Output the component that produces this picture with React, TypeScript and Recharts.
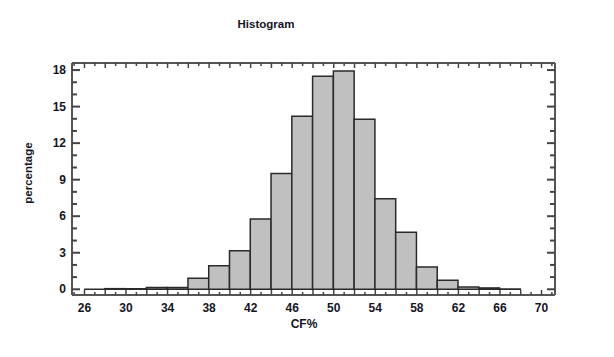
import React from 'react';
import { BarChart, Bar, XAxis, YAxis } from 'recharts';

const binCenters = [27, 29, 31, 33, 35, 37, 39, 41, 43, 45, 47, 49, 51, 53, 55, 57, 59, 61, 63, 65, 67];
const percentages = [0, 0.05, 0.05, 0.15, 0.15, 0.9, 1.94, 3.17, 5.77, 9.5, 14.2, 17.5, 17.93, 13.96, 7.44, 4.68, 1.83, 0.74, 0.19, 0.11, 0.02];
const binWidth = 2;

const xTickLabels = [26, 30, 34, 38, 42, 46, 50, 54, 58, 62, 66, 70];
const xMinorTicks = [25, 26, 27, 28, 29, 30, 31, 32, 33, 34, 35, 36, 37, 38, 39, 40, 41, 42, 43, 44, 45, 46, 47, 48, 49, 50, 51, 52, 53, 54, 55, 56, 57, 58, 59, 60, 61, 62, 63, 64, 65, 66, 67, 68, 69, 70, 71];
const yTickLabels = [0, 3, 6, 9, 12, 15, 18];
const yMinorTicks = [0, 1, 2, 3, 4, 5, 6, 7, 8, 9, 10, 11, 12, 13, 14, 15, 16, 17, 18];

const title = 'Histogram';
const xLabel = 'CF%';
const yLabel = 'percentage';

const xDomain: [number, number] = [24.8, 71.3];
const yDomain: [number, number] = [-0.47, 18.58];

const data = binCenters.map((c, i) => ({ center: c, pct: percentages[i] }));

const W = 614;
const H = 357;
const margin = { top: 62, right: 58, bottom: 61, left: 71 };
const plotW = W - margin.left - margin.right - 2;
const binPx = (plotW * binWidth) / (xDomain[1] - xDomain[0]);

const FONT = "'Liberation Sans', Arial, sans-serif";
const TEXT_COLOR = '#15151f';
const FRAME = '#555555';
const TICK = '#444444';

const HistBar = (props: any) => {
  const { x, y, width, height } = props;
  if (x == null || y == null) return null;
  const cx = x + (width || 0) / 2;
  const left = cx - binPx / 2;
  const h = height || 0;
  return (
    <path
      d={`M${left},${y} h${binPx} v${h} h${-binPx} Z`}
      fill="#c0c0c0"
      stroke="#2a2a2a"
      strokeWidth={1.5}
    />
  );
};

const BottomTick = (props: any) => {
  const { x, y, payload } = props;
  const v = payload.value;
  const major = v % 2 === 0;
  const labeled = xTickLabels.includes(v);
  return (
    <g>
      <line x1={x} x2={x} y1={y} y2={y - (major ? 5 : 3)} stroke={TICK} strokeWidth={1.5} />
      {labeled && (
        <text x={x} y={y + 17} textAnchor="middle" fontFamily={FONT} fontWeight="bold" fontSize={12} fill={TEXT_COLOR}>
          {v}
        </text>
      )}
    </g>
  );
};

const TopTick = (props: any) => {
  const { x, y, payload } = props;
  const v = payload.value;
  const major = v % 2 === 0;
  return <line x1={x} x2={x} y1={y} y2={y + (major ? 5 : 3)} stroke={TICK} strokeWidth={1.5} />;
};

const LeftTick = (props: any) => {
  const { x, y, payload } = props;
  const v = payload.value;
  const labeled = yTickLabels.includes(v);
  return (
    <g>
      <line x1={x} x2={x + (labeled ? 8 : 5)} y1={y} y2={y} stroke={TICK} strokeWidth={2} />
      {labeled && (
        <text x={x - 6} y={y + 4} textAnchor="end" fontFamily={FONT} fontWeight="bold" fontSize={12} fill={TEXT_COLOR}>
          {v}
        </text>
      )}
    </g>
  );
};

const RightTick = (props: any) => {
  const { x, y, payload } = props;
  const v = payload.value;
  const labeled = yTickLabels.includes(v);
  return <line x1={x} x2={x - (labeled ? 8 : 5)} y1={y} y2={y} stroke={TICK} strokeWidth={2} />;
};

export default function App() {
  return (
    <div style={{ position: 'absolute', left: 0, top: 0, width: W, height: H, background: '#fff' }}>
      <BarChart width={W} height={H} data={data} margin={margin} barCategoryGap={0} barGap={0}>
        <XAxis
          xAxisId="bottom"
          dataKey="center"
          type="number"
          domain={xDomain}
          allowDataOverflow
          padding={{ left: 0, right: 0 }}
          ticks={xMinorTicks}
          interval={0}
          height={1}
          tickSize={0}
          tickMargin={0}
          tickLine={false}
          axisLine={{ stroke: FRAME, strokeWidth: 2 }}
          tick={<BottomTick />}
        />
        <XAxis
          xAxisId="top"
          orientation="top"
          dataKey="center"
          type="number"
          domain={xDomain}
          allowDataOverflow
          padding={{ left: 0, right: 0 }}
          ticks={xMinorTicks}
          interval={0}
          height={1}
          tickSize={0}
          tickMargin={0}
          tickLine={false}
          axisLine={{ stroke: FRAME, strokeWidth: 2 }}
          tick={<TopTick />}
        />
        <YAxis
          yAxisId="left"
          type="number"
          domain={yDomain}
          allowDataOverflow
          ticks={yMinorTicks}
          interval={0}
          width={1}
          tickSize={0}
          tickMargin={0}
          tickLine={false}
          axisLine={{ stroke: FRAME, strokeWidth: 2 }}
          tick={<LeftTick />}
        />
        <YAxis
          yAxisId="right"
          orientation="right"
          type="number"
          domain={yDomain}
          allowDataOverflow
          ticks={yMinorTicks}
          interval={0}
          width={1}
          tickSize={0}
          tickMargin={0}
          tickLine={false}
          axisLine={{ stroke: FRAME, strokeWidth: 2 }}
          tick={<RightTick />}
        />
        <Bar
          xAxisId="bottom"
          yAxisId="left"
          dataKey="pct"
          barSize={10}
          shape={<HistBar />}
          isAnimationActive={false}
        />
      </BarChart>
      <svg width={W} height={H} style={{ position: 'absolute', left: 0, top: 0, pointerEvents: 'none' }}>
        <text x={266} y={28} textAnchor="middle" fontFamily={FONT} fontWeight="bold" fontSize={11.5} fill={TEXT_COLOR}>
          {title}
        </text>
        <text x={304} y={328} textAnchor="middle" fontFamily={FONT} fontWeight="bold" fontSize={12} fill={TEXT_COLOR}>
          {xLabel}
        </text>
        <text
          x={32}
          y={173}
          textAnchor="middle"
          fontFamily={FONT}
          fontWeight="bold"
          fontSize={11.5}
          fill={TEXT_COLOR}
          transform="rotate(-90 32 173)"
        >
          {yLabel}
        </text>
      </svg>
    </div>
  );
}
